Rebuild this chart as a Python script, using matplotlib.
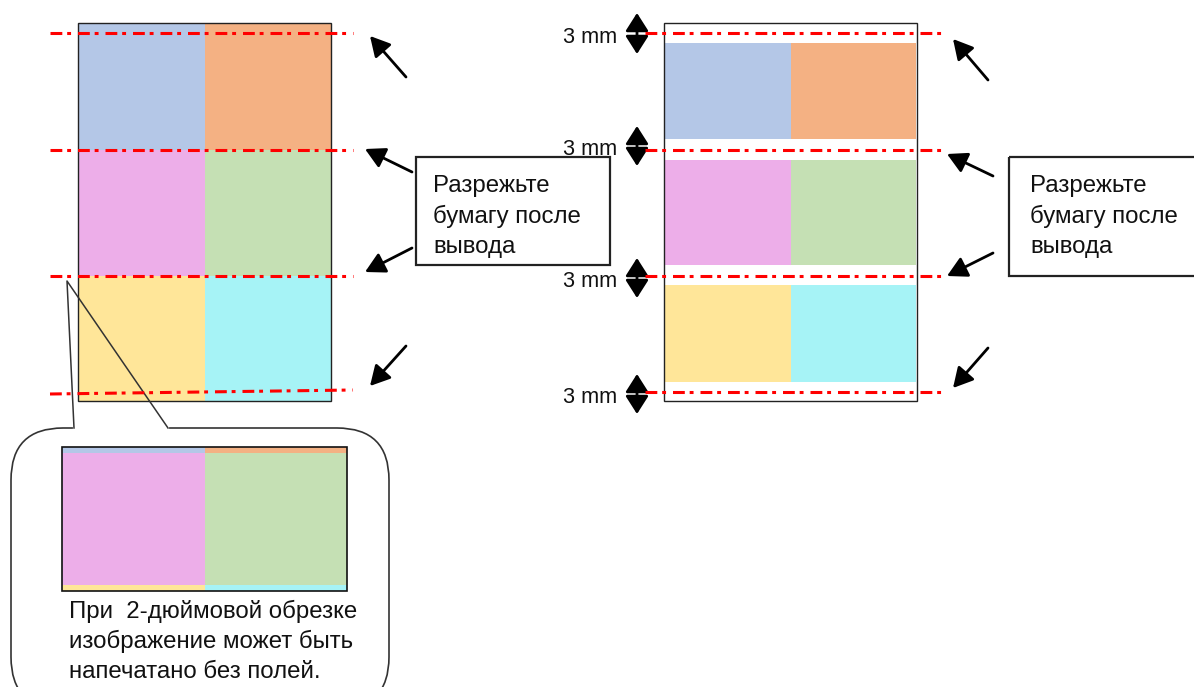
# cut_guide_diagram
import matplotlib
matplotlib.use('Agg')
import matplotlib.pyplot as plt
from matplotlib.patches import Rectangle, FancyBboxPatch, FancyArrowPatch
from matplotlib import rcParams

rcParams['font.family'] = ['Liberation Sans', 'DejaVu Sans']
rcParams['lines.scale_dashes'] = False

# cell colours, row by row (left, right)
cell_colors = [['#B4C7E7', '#F4B183'],
               ['#EDAEE9', '#C5E0B4'],
               ['#FFE699', '#A6F3F6']]
cut_note = ['Разрежьте', 'бумагу после', 'вывода']
gap_label = '3 mm'
bubble_note = ['При  2-дюймовой обрезке', 'изображение может быть', 'напечатано без полей.']

RED = '#FF0000'
DASH = (0, (8.5, 3.5, 2.8, 5))

fig = plt.figure(figsize=(11.94, 6.87), dpi=100)
ax = fig.add_axes([0, 0, 1, 1])
ax.set_xlim(0, 1194)
ax.set_ylim(687, 0)
ax.axis('off')


def arrow(x0, y0, x1, y1):
    ax.add_patch(FancyArrowPatch((x0, y0), (x1, y1),
                                 arrowstyle='-|>,head_length=12,head_width=6.5',
                                 color='black', lw=2, mutation_scale=1,
                                 shrinkA=0, shrinkB=0))


def cut_line(x0, x1, y0, y1=None):
    ax.plot([x0, x1], [y0, y0 if y1 is None else y1], color=RED, lw=2.2,
            linestyle=DASH, solid_capstyle='butt', dash_capstyle='butt', zorder=5)


def text_lines(x, y, lines, step=30.5, size=17.3):
    for i, s in enumerate(lines):
        ax.text(x, y + i * step, s, fontsize=size, va='baseline', ha='left', color='#111111')


# ---- left sheet (borderless print) ----
lx0, lx1, lxm = 78, 331, 205
rows_left = [23, 150, 276, 401]
for r in range(3):
    for c in range(2):
        x0 = lx0 if c == 0 else lxm
        x1 = lxm if c == 0 else lx1
        ax.add_patch(Rectangle((x0, rows_left[r]), x1 - x0, rows_left[r + 1] - rows_left[r],
                               facecolor=cell_colors[r][c], edgecolor='none'))
ax.add_patch(Rectangle((lx0, 23), lx1 - lx0, 378, fill=False, edgecolor='#222222', lw=1))

cut_line(50, 353, 33)
cut_line(50, 353, 150)
cut_line(50, 353, 276)
cut_line(50, 353, 394, 390)

arrow(406, 77, 370, 36)
arrow(412, 172, 365, 149)
arrow(412, 248, 365, 272)
arrow(406, 346, 370, 386)

ax.add_patch(Rectangle((416, 157), 194, 108, fill=False, edgecolor='#222222', lw=1.6))
text_lines(433, 192, cut_note)

# ---- right sheet (with 3 mm gaps) ----
rx0, rx1, rxm = 664, 917, 791
rows_right = [(43, 139), (160, 265), (285, 382)]
for r, (y0, y1) in enumerate(rows_right):
    ax.add_patch(Rectangle((rx0 + 1, y0), rxm - rx0 - 1, y1 - y0,
                           facecolor=cell_colors[r][0], edgecolor='none'))
    ax.add_patch(Rectangle((rxm, y0), rx1 - rxm - 1, y1 - y0,
                           facecolor=cell_colors[r][1], edgecolor='none'))
ax.add_patch(Rectangle((rx0, 23), rx1 - rx0, 378, fill=False, edgecolor='#222222', lw=1))

for y in [33, 150, 276, 392]:
    cut_line(645, 941, y)

for (ya, yb), yt in zip([(13, 54), (126, 166), (258, 298), (374, 414)], [43, 155, 287, 403]):
    ax.add_patch(FancyArrowPatch((637, ya), (637, yb),
                                 arrowstyle='<|-|>,head_length=11,head_width=7',
                                 color='black', lw=2, mutation_scale=1,
                                 shrinkA=0, shrinkB=0))
    ax.text(563, yt, gap_label, fontsize=15.6, va='baseline', ha='left', color='#111111')

arrow(988, 80, 953, 39)
arrow(993, 176, 947, 154)
arrow(993, 253, 947, 276)
arrow(988, 348, 953, 388)

ax.add_patch(Rectangle((1009, 157), 200, 119, fill=False, edgecolor='#222222', lw=1.6,
                       clip_on=True))
text_lines(1030, 192, cut_note)

# ---- callout bubble ----
ax.add_patch(FancyBboxPatch((11, 428), 378, 281,
                            boxstyle='round,pad=0,rounding_size=52',
                            facecolor='white', edgecolor='#333333', lw=1.2))
ax.plot([75, 167], [428, 428], color='white', lw=3, zorder=3)
ax.plot([74, 67, 168], [428, 281, 428], color='#333333', lw=1.1, zorder=4)

ix0, ix1, ixm = 62, 347, 205
ibands = [447, 453, 585, 591]
inset_rows = [0, 1, 2]
for k, r in enumerate(inset_rows):
    for c in range(2):
        x0 = ix0 if c == 0 else ixm
        x1 = ixm if c == 0 else ix1
        ax.add_patch(Rectangle((x0, ibands[k]), x1 - x0, ibands[k + 1] - ibands[k],
                               facecolor=cell_colors[r][c], edgecolor='none', zorder=4))
ax.add_patch(Rectangle((ix0, 447), ix1 - ix0, 144, fill=False, edgecolor='#111111',
                       lw=1.2, zorder=5))

text_lines(69, 618, bubble_note, step=30)

fig.savefig('out.png', dpi=100)
